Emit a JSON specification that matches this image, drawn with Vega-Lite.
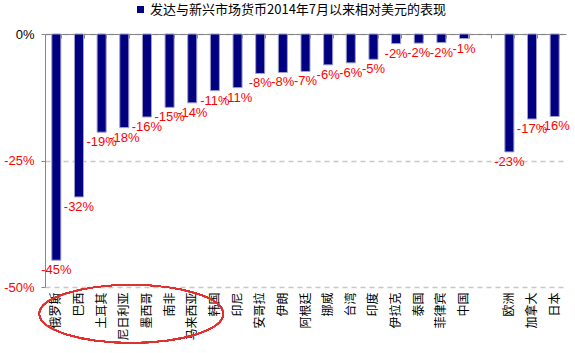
{
  "$schema": "https://vega.github.io/schema/vega-lite/v6.json",
  "width": 521,
  "height": 253,
  "autosize": {"type": "none"},
  "padding": {"left": 45, "top": 34, "right": 9, "bottom": 66},
  "background": "white",
  "config": {"view": {"stroke": null}, "font": "Liberation Sans"},
  "data": {
    "values": [
      {"country": "俄罗斯", "value": -44.7, "label": "-45%", "series": "发达与新兴市场货币2014年7月以来相对美元的表现"},
      {"country": "巴西", "value": -32.2, "label": "-32%", "series": "发达与新兴市场货币2014年7月以来相对美元的表现"},
      {"country": "土耳其", "value": -19.4, "label": "-19%", "series": "发达与新兴市场货币2014年7月以来相对美元的表现"},
      {"country": "尼日利亚", "value": -18.5, "label": "-18%", "series": "发达与新兴市场货币2014年7月以来相对美元的表现"},
      {"country": "墨西哥", "value": -16.4, "label": "-16%", "series": "发达与新兴市场货币2014年7月以来相对美元的表现"},
      {"country": "南非", "value": -14.5, "label": "-15%", "series": "发达与新兴市场货币2014年7月以来相对美元的表现"},
      {"country": "马来西亚", "value": -13.6, "label": "-14%", "series": "发达与新兴市场货币2014年7月以来相对美元的表现"},
      {"country": "韩国", "value": -11.2, "label": "-11%", "series": "发达与新兴市场货币2014年7月以来相对美元的表现"},
      {"country": "印尼", "value": -10.6, "label": "-11%", "series": "发达与新兴市场货币2014年7月以来相对美元的表现"},
      {"country": "安哥拉", "value": -7.8, "label": "-8%", "series": "发达与新兴市场货币2014年7月以来相对美元的表现"},
      {"country": "伊朗", "value": -7.6, "label": "-8%", "series": "发达与新兴市场货币2014年7月以来相对美元的表现"},
      {"country": "阿根廷", "value": -7.4, "label": "-7%", "series": "发达与新兴市场货币2014年7月以来相对美元的表现"},
      {"country": "挪威", "value": -6.1, "label": "-6%", "series": "发达与新兴市场货币2014年7月以来相对美元的表现"},
      {"country": "台湾", "value": -5.7, "label": "-6%", "series": "发达与新兴市场货币2014年7月以来相对美元的表现"},
      {"country": "印度", "value": -5.0, "label": "-5%", "series": "发达与新兴市场货币2014年7月以来相对美元的表现"},
      {"country": "伊拉克", "value": -1.9, "label": "-2%", "series": "发达与新兴市场货币2014年7月以来相对美元的表现"},
      {"country": "泰国", "value": -1.8, "label": "-2%", "series": "发达与新兴市场货币2014年7月以来相对美元的表现"},
      {"country": "菲律宾", "value": -1.7, "label": "-2%", "series": "发达与新兴市场货币2014年7月以来相对美元的表现"},
      {"country": "中国", "value": -0.9, "label": "-1%", "series": "发达与新兴市场货币2014年7月以来相对美元的表现"},
      {"country": " ", "value": null, "label": "", "series": "发达与新兴市场货币2014年7月以来相对美元的表现"},
      {"country": "欧洲", "value": -23.3, "label": "-23%", "series": "发达与新兴市场货币2014年7月以来相对美元的表现"},
      {"country": "加拿大", "value": -16.8, "label": "-17%", "series": "发达与新兴市场货币2014年7月以来相对美元的表现"},
      {"country": "日本", "value": -16.3, "label": "-16%", "series": "发达与新兴市场货币2014年7月以来相对美元的表现"}
    ]
  },
  "resolve": {"axis": {"x": "independent"}},
  "layer": [
    {
      "mark": {"type": "bar", "stroke": "#A0A0C8", "strokeWidth": 1},
      "encoding": {
        "x": {
          "field": "country", "type": "nominal", "sort": null,
          "scale": {
            "domain": ["俄罗斯", "巴西", "土耳其", "尼日利亚", "墨西哥", "南非", "马来西亚", "韩国", "印尼", "安哥拉", "伊朗", "阿根廷", "挪威", "台湾", "印度", "伊拉克", "泰国", "菲律宾", "中国", " ", "欧洲", "加拿大", "日本"],
            "paddingInner": 0.6, "paddingOuter": 0.3
          },
          "axis": {"orient": "bottom", "title": null, "labelAngle": -90, "domain": false, "ticks": false, "labelPadding": 5, "labelFont": "Noto Sans CJK SC", "labelFontSize": 12, "labelColor": "black"}
        },
        "y": {
          "field": "value", "type": "quantitative",
          "scale": {"domain": [-50, 0], "nice": false},
          "axis": {
            "title": null, "values": [-50, -25, 0], "labelExpr": "datum.value + '%'",
            "grid": true, "gridDash": [5, 4], "gridColor": "#C8C8C8", "gridWidth": 1.5,
            "domainColor": "#868686", "tickColor": "#868686", "tickSize": 4, "labelPadding": 7,
            "labelFontSize": 13, "labelFont": "Liberation Sans",
            "labelColor": {"condition": {"test": "datum.value < 0", "value": "red"}, "value": "black"}
          }
        },
        "color": {
          "field": "series", "type": "nominal",
          "scale": {"range": ["#000080"]},
          "legend": {
            "orient": "none", "legendX": 89, "legendY": -31, "title": null,
            "symbolType": "square", "symbolSize": 49, "symbolStrokeWidth": 0,
            "labelFont": "Noto Sans CJK SC", "labelFontSize": 13, "labelColor": "black", "labelLimit": 400, "labelOffset": 3
          }
        }
      }
    },
    {
      "mark": {"type": "text", "baseline": "top", "dy": 4, "color": "red", "fontSize": 13, "font": "Liberation Sans"},
      "encoding": {
        "x": {
          "field": "country", "type": "nominal", "sort": null,
          "axis": {"orient": "top", "title": null, "labels": false, "domainColor": "#868686", "tickColor": "#868686", "tickSize": -4, "tickBand": "extent"}
        },
        "y": {"field": "value", "type": "quantitative"},
        "text": {"field": "label"}
      }
    },
    {
      "mark": {"type": "point", "shape": "M-1,0 A1,0.315 0 1,1 1,0 A1,0.315 0 1,1 -1,0 Z", "filled": false, "stroke": "#E03030", "strokeWidth": 1.2, "size": 33856, "xOffset": 7, "opacity": 1},
      "encoding": {
        "x": {"datum": "尼日利亚", "type": "nominal", "axis": null},
        "y": {"datum": -55.3, "type": "quantitative"}
      }
    }
  ]
}
